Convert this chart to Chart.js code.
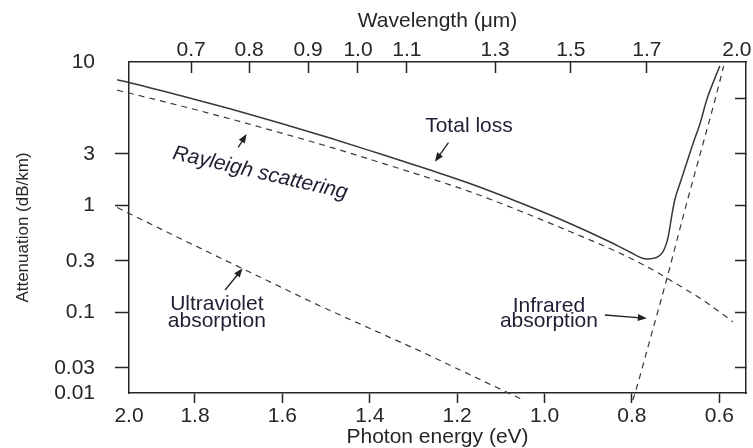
<!DOCTYPE html>
<html><head><meta charset="utf-8">
<script src="https://cdn.jsdelivr.net/npm/chart.js@4.4.1/dist/chart.umd.min.js"></script>
<style>html,body{margin:0;padding:0;background:#fff;}canvas{display:block;}</style>
</head><body>
<canvas id="c" width="753" height="448"></canvas>
<script>
// ---- data ----
const energyTicks = [2.0, 1.8, 1.6, 1.4, 1.2, 1.0, 0.8, 0.6];
const wavelengthLabels = ['0.7','0.8','0.9','1.0','1.1','1.3','1.5','1.7','2.0'];
const wavelengthTickEnergies = [1.809, 1.676, 1.541, 1.427, 1.315, 1.113, 0.940, 0.766, 0.560];
const attenuationTickLabels = ['10','3','1','0.3','0.1','0.03','0.01'];
const attenuationInnerTicks = [10, 3, 1, 0.3, 0.1, 0.03];
const energyRange = [0.539, 1.951];
const attenuationRange = [0.0175, 21.7];

const totalLossE = [1.978, 1.949, 1.834, 1.720, 1.606, 1.491, 1.377, 1.262, 1.171, 1.056, 0.942, 0.850, 0.805, 0.766, 0.741, 0.725, 0.717, 0.713, 0.708, 0.702, 0.690, 0.675, 0.660, 0.644, 0.629, 0.599];
const totalLossV = [14.79, 13.90, 10.55, 7.93, 5.84, 4.23, 3.01, 2.124, 1.588, 1.049, 0.672, 0.451, 0.364, 0.313, 0.327, 0.394, 0.506, 0.627, 0.836, 1.114, 1.595, 2.453, 3.773, 5.80, 9.58, 19.9];

const rayleighE = [1.978, 1.949, 1.834, 1.720, 1.606, 1.491, 1.377, 1.262, 1.171, 1.056, 0.942, 0.827, 0.752, 0.713, 0.638, 0.569];
const rayleighV = [11.83, 11.07, 8.47, 6.39, 4.75, 3.48, 2.50, 1.776, 1.334, 0.879, 0.565, 0.354, 0.247, 0.199, 0.1295, 0.0812];

const infraredE = [0.798, 0.793, 0.759, 0.721, 0.683, 0.652, 0.610, 0.590];
const infraredV = [0.01506, 0.0174, 0.0547, 0.199, 0.777, 2.28, 9.58, 19.9];

const ultravioletE = [1.978, 1.827, 1.514, 1.285, 1.049];
const ultravioletV = [0.946, 0.471, 0.1138, 0.0432, 0.01506];

// ---- helpers ----
const toPoints = (xs, ys) => xs.map((e, i) => ({x: e, y: ys[i]}));
const ink = '#262626';
const lineInk = '#383838';
const textInk = '#1d1f33';
const FONT = '"Liberation Sans", Arial, Helvetica, sans-serif';
Chart.defaults.font.family = FONT;

const hide = 'rgba(0,0,0,0)';

const notes = {
  id: 'notes',
  afterDatasetsDraw(chart) {
    const {ctx} = chart;
    const xs = chart.scales.x, ys = chart.scales.y;
    const P = (e, v) => [xs.getPixelForValue(e), ys.getPixelForValue(v)];
    const arrow = (a, b) => {
      const [x1, y1] = P(a[0], a[1]);
      const [x2, y2] = P(b[0], b[1]);
      const ang = Math.atan2(y2 - y1, x2 - x1);
      const hl = 9, hw = 3.5;
      ctx.strokeStyle = '#222'; ctx.lineWidth = 1.3; ctx.setLineDash([]);
      ctx.beginPath(); ctx.moveTo(x1, y1);
      ctx.lineTo(x2 - Math.cos(ang) * hl * 0.7, y2 - Math.sin(ang) * hl * 0.7); ctx.stroke();
      ctx.fillStyle = '#222';
      ctx.beginPath(); ctx.moveTo(x2, y2);
      ctx.lineTo(x2 - Math.cos(ang) * hl - Math.sin(ang) * hw, y2 - Math.sin(ang) * hl + Math.cos(ang) * hw);
      ctx.lineTo(x2 - Math.cos(ang) * hl + Math.sin(ang) * hw, y2 - Math.sin(ang) * hl - Math.cos(ang) * hw);
      ctx.closePath(); ctx.fill();
    };
    const text = (s, e, v, opts = {}) => {
      const [x, y] = P(e, v);
      ctx.save();
      ctx.font = (opts.italic ? 'italic ' : '') + '21px ' + FONT;
      ctx.fillStyle = textInk;
      ctx.textAlign = 'center';
      ctx.textBaseline = opts.baseline || 'alphabetic';
      ctx.translate(x, y);
      if (opts.rot) ctx.rotate(opts.rot * Math.PI / 180);
      ctx.fillText(s, 0, 0);
      ctx.restore();
    };
    ctx.save();
    text('Total loss', 1.173, 4.84);
    arrow([1.220, 3.82], [1.251, 2.54]);
    text('Rayleigh scattering', 1.651, 1.99, {italic: true, rot: 13, baseline: 'middle'});
    arrow([1.701, 3.46], [1.682, 4.61]);
    text('Ultraviolet', 1.750, 0.1044);
    text('absorption', 1.750, 0.0719);
    arrow([1.731, 0.1606], [1.691, 0.256]);
    text('Infrared', 0.990, 0.1007);
    text('absorption', 0.990, 0.0729);
    arrow([0.862, 0.0938], [0.766, 0.0873]);
    ctx.restore();
  }
};

const lineClip = {left: 15, top: 5, right: 0, bottom: 10};
const tickFont = {size: 21};

new Chart(document.getElementById('c'), {
  type: 'line',
  data: {
    datasets: [
      {label: 'Total loss', data: toPoints(totalLossE, totalLossV), borderColor: lineInk, borderWidth: 1.5,
       cubicInterpolationMode: 'monotone', pointRadius: 0, clip: lineClip},
      {label: 'Rayleigh scattering', data: toPoints(rayleighE, rayleighV), borderColor: lineInk, borderWidth: 1.2,
       borderDash: [6, 5], cubicInterpolationMode: 'monotone', pointRadius: 0, clip: lineClip},
      {label: 'Infrared absorption', data: toPoints(infraredE, infraredV), borderColor: lineInk, borderWidth: 1.2,
       borderDash: [6, 5], cubicInterpolationMode: 'monotone', pointRadius: 0, clip: lineClip},
      {label: 'Ultraviolet absorption', data: toPoints(ultravioletE, ultravioletV), borderColor: lineInk, borderWidth: 1.2,
       borderDash: [6, 5], tension: 0, pointRadius: 0, clip: lineClip}
    ]
  },
  options: {
    responsive: false, animation: false, devicePixelRatio: 1,
    layout: {padding: {left: 0, right: 7, top: 0, bottom: 0}},
    plugins: {legend: {display: false}, tooltip: {enabled: false}},
    scales: {
      x: {
        type: 'linear', position: 'bottom', reverse: true, min: energyRange[0], max: energyRange[1],
        afterBuildTicks: s => { s.ticks = energyTicks.map(v => ({value: Math.min(v, energyRange[1])})); },
        afterFit: s => { s.height = 55; s.paddingLeft = 0; s.paddingRight = 0; },
        ticks: {autoSkip: false, maxRotation: 0, padding: 1, color: ink, font: tickFont,
                callback: (v, i) => energyTicks[i].toFixed(1)},
        grid: {drawOnChartArea: false, tickLength: 10, tickWidth: 1.5,
               tickColor: c => (c.index === 0 ? hide : ink)},
        border: {display: true, color: ink, width: 1.5},
        title: {display: true, text: 'Photon energy (eV)', color: ink, font: {size: 21, lineHeight: 1},
                padding: {top: 0, bottom: 0.5}}
      },
      x2: {
        type: 'linear', position: 'top', reverse: true, min: energyRange[0], max: energyRange[1],
        afterBuildTicks: s => { s.ticks = wavelengthTickEnergies.map(v => ({value: v})); },
        afterFit: s => { s.height = 62; s.paddingLeft = 0; s.paddingRight = 0; },
        ticks: {autoSkip: false, maxRotation: 0, padding: 10, color: ink, font: tickFont,
                callback: (v, i) => wavelengthLabels[i]},
        grid: {drawOnChartArea: false, tickLength: -11, tickWidth: 1.5,
               tickColor: c => (c.index === wavelengthLabels.length - 1 ? hide : ink)},
        border: {display: true, color: ink, width: 1.5},
        title: {display: true, text: 'Wavelength (μm)', color: ink, font: {size: 21, lineHeight: 1},
                padding: {top: 10.5, bottom: 0}}
      },
      y: {
        type: 'logarithmic', position: 'left', min: attenuationRange[0], max: attenuationRange[1],
        afterBuildTicks: s => {
          const vals = [attenuationRange[1], 3, 1, 0.3, 0.1, 0.03, attenuationRange[0]];
          s.ticks = vals.map(v => ({value: v}));
        },
        afterFit: s => { s.width = 129; s.paddingTop = 0; s.paddingBottom = 0; },
        ticks: {autoSkip: false, padding: 20, color: ink, font: tickFont,
                callback: (v, i) => attenuationTickLabels[i]},
        grid: {drawOnChartArea: false, tickLength: 14, tickWidth: 1.5,
               tickColor: c => (c.index === 0 || c.index === attenuationTickLabels.length - 1 ? hide : ink)},
        border: {display: true, color: ink, width: 1.5},
        title: {display: true, text: 'Attenuation (dB/km)', color: ink, font: {size: 17, lineHeight: 1},
                padding: {top: 14.5, bottom: 0}}
      },
      y2: {
        type: 'logarithmic', position: 'right', min: attenuationRange[0], max: attenuationRange[1],
        afterBuildTicks: s => { s.ticks = attenuationInnerTicks.map(v => ({value: v})); },
        afterFit: s => { s.width = 0; s.paddingTop = 0; s.paddingBottom = 0; },
        ticks: {display: false},
        grid: {drawOnChartArea: false, tickLength: -11, tickWidth: 1.5, tickColor: ink},
        border: {display: true, color: ink, width: 1.5}
      }
    }
  },
  plugins: [notes]
});
</script>
</body></html>
